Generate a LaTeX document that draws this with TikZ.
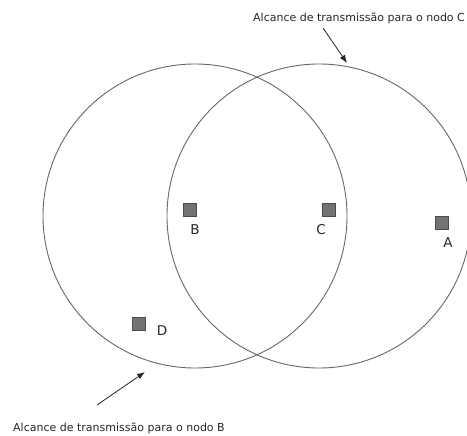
\documentclass[tikz,border=0pt]{standalone}
\usepackage{fontspec}
\setmainfont{DejaVu Sans}
\usetikzlibrary{arrows.meta,positioning}

\begin{document}
\begin{tikzpicture}[x=1pt, y=-1pt,
  station/.style = {draw=black!70, fill=black!55, line width=0.6pt, minimum size=13pt, inner sep=0pt},
  rangecircle/.style = {draw=black!60, line width=0.9pt},
  caption/.style = {font=\fontsize{11}{13}\selectfont, text=black!85, inner sep=0pt},
  letter/.style = {font=\fontsize{13.5}{15}\selectfont, text=black!85, inner sep=0pt},
  pointer/.style = {black!85, line width=0.8pt, -{Latex[length=8pt,width=6pt]}}]
\useasboundingbox (0,0) rectangle (467,436);

\coordinate (cB) at (195,216);
\coordinate (cC) at (319,216);

\coordinate (A) at (442,223);
\coordinate (B) at (190,210);
\coordinate (C) at (329,210);
\coordinate (D) at (139,324);

\coordinate (A') at (448,243);
\coordinate (B') at (195,230);
\coordinate (C') at (321,230);
\coordinate (D') at (162,331);

\draw[rangecircle] (cB) circle [radius=152pt];
\draw[rangecircle] (cC) circle [radius=152pt];

\foreach\n in {A,B,C,D}
{ \node[station] (s\n) at (\n) {};
  \node[letter] (l\n) at (\n') {\n}; }

\node[caption, anchor=west] (tC) at (253,18) {Alcance de transmissão para o nodo C};
\node[caption, anchor=west] (tB) at (13,428) {Alcance de transmissão para o nodo B};

\coordinate (aC) at (323,28);
\coordinate (hC) at (347,63);
\coordinate (aB) at (97,405);
\coordinate (hB) at (145,372);

\draw[pointer] (aC) -- (hC);
\draw[pointer] (aB) -- (hB);

\end{tikzpicture}
\end{document}
